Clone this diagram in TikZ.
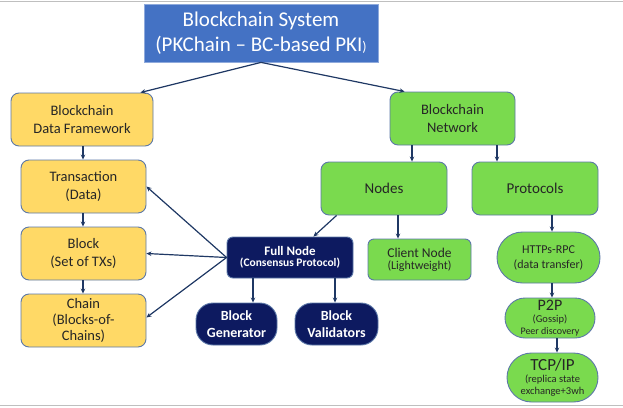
\documentclass[tikz,border=0pt]{standalone}
\usepackage{fontspec}
\setmainfont{Carlito}
\usetikzlibrary{arrows.meta,calc,shapes.misc}
\definecolor{titleblue}{HTML}{4472C4}
\definecolor{titleedge}{HTML}{8FAADC}
\definecolor{ybox}{HTML}{FFD966}
\definecolor{gbox}{HTML}{7ADA4E}
\definecolor{edgeblue}{HTML}{5C78A8}
\definecolor{navy}{HTML}{0D1A60}
\definecolor{arrowc}{HTML}{1F3864}
\definecolor{txt}{HTML}{262626}
\tikzset{
  base/.style={draw=edgeblue, line width=0.9pt, align=center, inner sep=0pt, text=txt},
  ynode/.style={base, fill=ybox, rounded corners=8pt, font=\fontsize{14.5}{17.5}\selectfont},
  gnode/.style={base, fill=gbox, rounded corners=8pt, font=\fontsize{14.5}{17.5}\selectfont},
  gpill/.style={base, fill=gbox, rounded rectangle},
  nnode/.style={base, fill=navy, draw=edgeblue, text=white, rounded corners=6pt},
  npill/.style={base, fill=navy, draw=edgeblue, text=white, rounded corners=17pt, font=\bfseries\fontsize{14}{17}\selectfont},
  arr/.style={draw=arrowc, line width=1.2pt, -{Stealth[length=5pt,width=4.5pt]}},
}
\begin{document}
\begin{tikzpicture}[x=1pt,y=-1pt]
\useasboundingbox (0,0) rectangle (623,407);
\draw[color=black!25, line width=1pt] (0,1) -- (623,1);
\draw[color=black!25, line width=1pt] (0,405.5) -- (623,405.5);

\node[draw=titleedge, fill=titleblue, line width=0.8pt, text=white, align=center,
  minimum width=234pt, minimum height=58pt, inner sep=0pt,
  font=\fontsize{21}{25}\selectfont] (title) at (261,33)
  {Blockchain System\\(PKChain -- BC-based PKI{\fontsize{14}{16}\selectfont)}};

\node[ynode, minimum width=142pt, minimum height=53pt] (bdf) at (82,119.5) {Blockchain\\Data Framework};
\node[ynode, minimum width=125pt, minimum height=53pt] (tx) at (83.5,186.5) {Transaction\\(Data)};
\node[ynode, minimum width=125pt, minimum height=53pt] (blk) at (83.5,253.5) {Block\\(Set of TXs)};
\node[ynode, minimum width=125pt, minimum height=53pt, font=\fontsize{14.5}{16}\selectfont] (chain) at (83.5,320.5) {Chain\\(Blocks-of-\\Chains)};

\node[nnode, minimum width=126pt, minimum height=41pt] (full) at (290,257.5)
  {{\bfseries\fontsize{13}{16}\selectfont Full Node}\\[-1pt]{\bfseries\fontsize{11.5}{13}\selectfont (Consensus Protocol)}};
\node[npill, minimum width=81pt, minimum height=42pt] (gen) at (236.5,324) {Block\\Generator};
\node[npill, minimum width=83pt, minimum height=42pt] (val) at (336.5,324) {Block\\Validators};

\node[gnode, minimum width=125pt, minimum height=53pt] (net) at (452.5,118.5) {Blockchain\\Network};
\node[gnode, minimum width=126pt, minimum height=53pt, font=\fontsize{15}{17}\selectfont] (nodes) at (384,188.5) {Nodes};
\node[gnode, minimum width=126pt, minimum height=53pt, font=\fontsize{15}{17}\selectfont] (proto) at (535,188.5) {Protocols};
\node[base, fill=gbox, rounded corners=6pt, minimum width=103pt, minimum height=41pt] (client) at (419.5,259.5)
  {{\fontsize{13.5}{15}\selectfont Client Node}\\{\fontsize{12}{14}\selectfont (Lightweight)}};

\node[gpill, minimum width=103pt, minimum height=51pt, font=\fontsize{12}{15}\selectfont] (https) at (548.5,257.5)
  {HTTPs-RPC\\(data transfer)};
\node[gpill, minimum width=90pt, minimum height=40pt] (p2p) at (550,318)
  {{\fontsize{16}{14}\selectfont P2P}\\{\fontsize{10.5}{13}\selectfont (Gossip)}\\{\fontsize{10}{12}\selectfont Peer discovery}};
\node[gpill, minimum width=91pt, minimum height=49pt] (tcp) at (552.5,377.5)
  {{\fontsize{17}{16}\selectfont TCP/IP}\\{\fontsize{10.5}{14}\selectfont (replica state}\\{\fontsize{10.5}{14}\selectfont exchange+3wh}};

% arrows
\draw[arr] (title.south) -- ($(bdf.north east)+(-13,0)$);
\draw[arr] (title.south) -- ($(net.north west)+(15,0)$);

\draw[arr] (bdf.south -| 83,0) -- (tx.north -| 83,0);
\draw[arr] (tx.south -| 83,0) -- (blk.north -| 83,0);
\draw[arr] (blk.south -| 83,0) -- (chain.north -| 83,0);

\draw[arr] (full.west) -- (tx.east);
\draw[arr] (full.west) -- (blk.east);
\draw[arr] (full.west) -- ($(chain.east)+(0,-3)$);

\draw[arr] (full.south -| 253,0) -- (gen.north -| 253,0);
\draw[arr] (full.south -| 335,0) -- (val.north -| 335,0);

\draw[arr] (net.south -| 412,0) -- (nodes.north -| 412,0);
\draw[arr] (net.south -| 497,0) -- (proto.north -| 497,0);

\draw[arr] ($(nodes.south west)+(16,0)$) -- ($(full.north east)+(-40,0)$);
\draw[arr] (nodes.south -| 398,0) -- (client.north -| 398,0);

\draw[arr] (proto.south -| 552,0) -- (https.north -| 552,0);
\draw[arr] (https.south -| 552,0) -- (p2p.north -| 552,0);
\draw[arr] (p2p.south -| 557,0) -- (tcp.north -| 557,0);
\end{tikzpicture}
\end{document}
